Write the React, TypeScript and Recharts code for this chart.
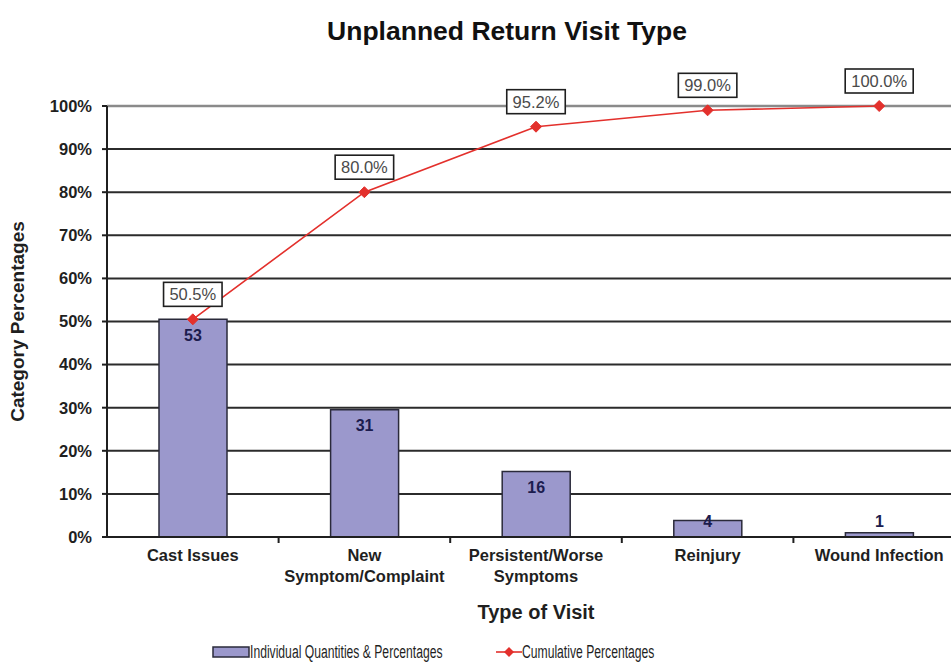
import React from "react";
import {
  ComposedChart,
  Bar,
  Line,
  XAxis,
  YAxis,
  CartesianGrid,
  Legend,
  ReferenceLine,
} from "recharts";

const categories = [
  "Cast Issues",
  "New Symptom/Complaint",
  "Persistent/Worse Symptoms",
  "Reinjury",
  "Wound Infection",
];
// how each category label wraps on the axis
const categoryLines = [
  ["Cast Issues"],
  ["New", "Symptom/Complaint"],
  ["Persistent/Worse", "Symptoms"],
  ["Reinjury"],
  ["Wound Infection"],
];
const counts = [53, 31, 16, 4, 1];
const percents = [50.5, 29.5, 15.2, 3.8, 1.0];
const cumulative = [50.5, 80.0, 95.2, 99.0, 100.0];
const yTicks = [0, 10, 20, 30, 40, 50, 60, 70, 80, 90, 100];

const data = categories.map((name, i) => ({
  name,
  count: counts[i],
  percent: percents[i],
  cumulative: cumulative[i],
}));

const CHART_W = 975;
const CHART_H = 667;
const MARGIN = { top: 106, right: 10, left: 0, bottom: 40 };
const Y_AXIS_W = 107;
const X_AXIS_H = 90;
const band = (CHART_W - MARGIN.left - MARGIN.right - Y_AXIS_W) / categories.length;

const FONT = "'Liberation Sans', Arial, Helvetica, sans-serif";
const INK = "#1f1f1f";
const BAR_FILL = "#9b98cc";
const RED = "#e3302c";

const XTick = (props: any) => {
  const { x, y, index } = props;
  const lines = categoryLines[index] || [];
  return (
    <g>
      {index > 0 && (
        <line x1={x - band / 2} x2={x - band / 2} y1={y} y2={y + 6} stroke={INK} strokeWidth={2} />
      )}
      {lines.map((l, i) => (
        <text
          key={i}
          x={x}
          y={y + 24 + i * 21}
          textAnchor="middle"
          fontFamily={FONT}
          fontWeight="bold"
          fontSize={16.5}
          fill={INK}
        >
          {l}
        </text>
      ))}
    </g>
  );
};

const Diamond = (props: any) => {
  const { cx, cy } = props;
  if (cx == null || cy == null) return null;
  const r = 5.5;
  return (
    <path
      d={`M${cx},${cy - r} L${cx + r},${cy} L${cx},${cy + r} L${cx - r},${cy} Z`}
      fill={RED}
      stroke={RED}
    />
  );
};

const CumLabel = (props: any) => {
  const { x, y, value } = props;
  const txt = `${Number(value).toFixed(1)}%`;
  const w = txt.length * 9.5 + 11;
  return (
    <g>
      <rect x={x - w / 2} y={y - 37} width={w} height={24} fill="#fff" stroke={INK} strokeWidth={1.6} />
      <text
        x={x}
        y={y - 25}
        textAnchor="middle"
        dominantBaseline="central"
        fontFamily={FONT}
        fontSize={16.5}
        fill="#4a4a4a"
      >
        {txt}
      </text>
    </g>
  );
};

const CountLabel = (props: any) => {
  const { x, y, width, height, index } = props;
  const cy = Math.min(y + 16, y + height - 16);
  return (
    <text
      x={x + width / 2}
      y={cy}
      textAnchor="middle"
      dominantBaseline="central"
      fontFamily={FONT}
      fontWeight="bold"
      fontSize={16}
      fill="#1c1c4e"
    >
      {counts[index]}
    </text>
  );
};

const squeeze: React.CSSProperties = {
  display: "inline-block",
  transform: "scaleX(0.675)",
  transformOrigin: "left center",
  whiteSpace: "nowrap",
};

const LegendContent = () => (
  <div
    style={{
      position: "relative",
      height: 26,
      fontFamily: FONT,
      fontSize: 18,
      color: INK,
    }}
  >
    <div style={{ position: "absolute", left: 212, top: 0, display: "flex", alignItems: "center", height: 26 }}>
      <svg width={38} height={12}>
        <rect x={1} y={1} width={36} height={10} fill={BAR_FILL} stroke="#2a2a3a" strokeWidth={1.5} />
      </svg>
      <span style={squeeze}>Individual Quantities &amp; Percentages</span>
    </div>
    <div style={{ position: "absolute", left: 496, top: 0, display: "flex", alignItems: "center", height: 26 }}>
      <svg width={26} height={12}>
        <line x1={0} x2={26} y1={6} y2={6} stroke={RED} strokeWidth={1.6} />
        <path d="M13,1 L18,6 L13,11 L8,6 Z" fill={RED} />
      </svg>
      <span style={squeeze}>Cumulative Percentages</span>
    </div>
  </div>
);

export default function App() {
  return (
    <div
      style={{
        position: "absolute",
        left: 0,
        top: 0,
        width: 951,
        height: 667,
        overflow: "hidden",
        background: "#fff",
      }}
    >
      <ComposedChart width={CHART_W} height={CHART_H} data={data} margin={MARGIN}>
        <text
          x={507}
          y={40}
          textAnchor="middle"
          fontFamily={FONT}
          fontWeight="bold"
          fontSize={26.5}
          fill="#111"
        >
          Unplanned Return Visit Type
        </text>
        <CartesianGrid vertical={false} stroke="#2b2b2b" strokeWidth={2} />
        <ReferenceLine y={100} stroke="#8a8a8a" strokeWidth={2.5} />
        <XAxis
          dataKey="name"
          height={X_AXIS_H}
          interval={0}
          tickLine={false}
          tickSize={0}
          tickMargin={0}
          axisLine={{ stroke: INK, strokeWidth: 2 }}
          tick={<XTick />}
          label={{
            value: "Type of Visit",
            position: "insideBottom",
            offset: 8,
            style: { fontFamily: FONT, fontWeight: "bold", fontSize: 20, fill: INK },
          }}
        />
        <YAxis
          width={Y_AXIS_W}
          domain={[0, 100]}
          ticks={yTicks}
          interval={0}
          tickFormatter={(v) => `${v}%`}
          tickSize={5}
          tickMargin={10}
          tickLine={{ stroke: INK, strokeWidth: 2 }}
          axisLine={{ stroke: INK, strokeWidth: 2 }}
          tick={{ fontFamily: FONT, fontWeight: "bold", fontSize: 16.5, fill: INK }}
          label={{
            value: "Category Percentages",
            angle: -90,
            position: "insideLeft",
            offset: 17,
            style: { textAnchor: "middle", fontFamily: FONT, fontWeight: "bold", fontSize: 19, fill: INK },
          }}
        />
        <Bar
          dataKey="percent"
          barSize={68}
          fill={BAR_FILL}
          stroke="#2a2a3a"
          strokeWidth={1.5}
          isAnimationActive={false}
          label={<CountLabel />}
        />
        <Line
          dataKey="cumulative"
          stroke={RED}
          strokeWidth={1.6}
          dot={<Diamond />}
          activeDot={false}
          isAnimationActive={false}
          label={<CumLabel />}
        />
        <Legend
          layout="horizontal"
          align="center"
          verticalAlign="middle"
          wrapperStyle={{ left: 0, top: 639, width: 951 }}
          content={<LegendContent />}
        />
      </ComposedChart>
    </div>
  );
}
